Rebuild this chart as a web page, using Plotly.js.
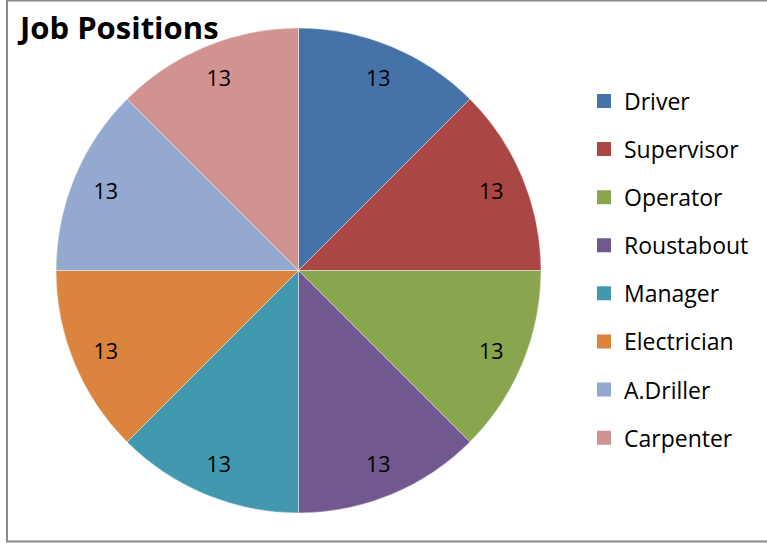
<!DOCTYPE html>
<html>
<head>
<meta charset="utf-8">
<script src="https://cdn.plot.ly/plotly-3.0.1.min.js"></script>
<style>html,body{margin:0;padding:0;background:#fff;}#chart{width:767px;height:543px;}</style>
</head>
<body>
<div id="chart"></div>
<script>
const categories = ["Driver", "Supervisor", "Operator", "Roustabout", "Manager", "Electrician", "A.Driller", "Carpenter"];
const counts = [13, 13, 13, 13, 13, 13, 13, 13];
const colors = ["#4572A7", "#AA4643", "#89A54E", "#71588F", "#4198AF", "#DB843D", "#93A9CF", "#D19392"];
const chartTitle = "Job Positions";

const W = 767, H = 543;
const FONT = "Open Sans, Liberation Sans, sans-serif";
const pieDomain = {x: [56 / W, 541 / W], y: [30 / H, 515 / H]};

const pieTrace = {
  type: "pie",
  labels: categories,
  values: counts,
  sort: false,
  direction: "clockwise",
  rotation: 0,
  marker: {colors: colors, line: {color: "rgba(255,255,255,0.7)", width: 0.6}},
  textinfo: "none",
  showlegend: false,
  hoverinfo: "label+value",
  domain: pieDomain
};

// transparent ring carrying the value labels near the rim
const labelTrace = {
  type: "pie",
  labels: categories,
  values: counts,
  sort: false,
  direction: "clockwise",
  rotation: 0,
  hole: 0.72,
  marker: {colors: categories.map(() => "rgba(0,0,0,0)"), line: {width: 0}},
  textinfo: "value",
  textposition: "inside",
  insidetextorientation: "horizontal",
  textfont: {family: FONT, size: 21.5, color: "#000"},
  showlegend: false,
  hoverinfo: "skip",
  domain: pieDomain
};

const legendTraces = categories.map((c, i) => ({
  type: "scatter",
  mode: "markers",
  x: [null],
  y: [null],
  name: c,
  legendgroup: "g" + i,
  marker: {symbol: "square", size: 14, color: colors[i], line: {width: 0}},
  showlegend: true,
  hoverinfo: "skip"
}));

const layout = {
  width: W,
  height: H,
  margin: {l: 0, r: 0, t: 0, b: 0},
  paper_bgcolor: "#fff",
  plot_bgcolor: "#fff",
  font: {family: FONT, color: "#000"},
  title: {
    text: "<b>" + chartTitle + "</b>",
    font: {family: FONT, size: 31, color: "#000"},
    x: 20 / W, xref: "paper", xanchor: "left",
    y: 1 - 17 / H, yref: "paper", yanchor: "top"
  },
  xaxis: {visible: false},
  yaxis: {visible: false},
  legend: {
    x: 584 / W, xanchor: "left",
    y: 1 - 269.5 / H, yanchor: "middle",
    font: {family: FONT, size: 23, color: "#000"},
    tracegroupgap: 15.2,
    bgcolor: "rgba(0,0,0,0)",
    borderwidth: 0
  },
  shapes: [{
    type: "rect", xref: "paper", yref: "paper",
    x0: 7 / W, x1: 1.01, y0: 1.5 / H, y1: 1 - 0.5 / H,
    line: {color: "#8a8a8a", width: 2}
  }]
};

Plotly.newPlot("chart", [pieTrace, labelTrace].concat(legendTraces), layout, {staticPlot: true, displayModeBar: false});
</script>
</body>
</html>
